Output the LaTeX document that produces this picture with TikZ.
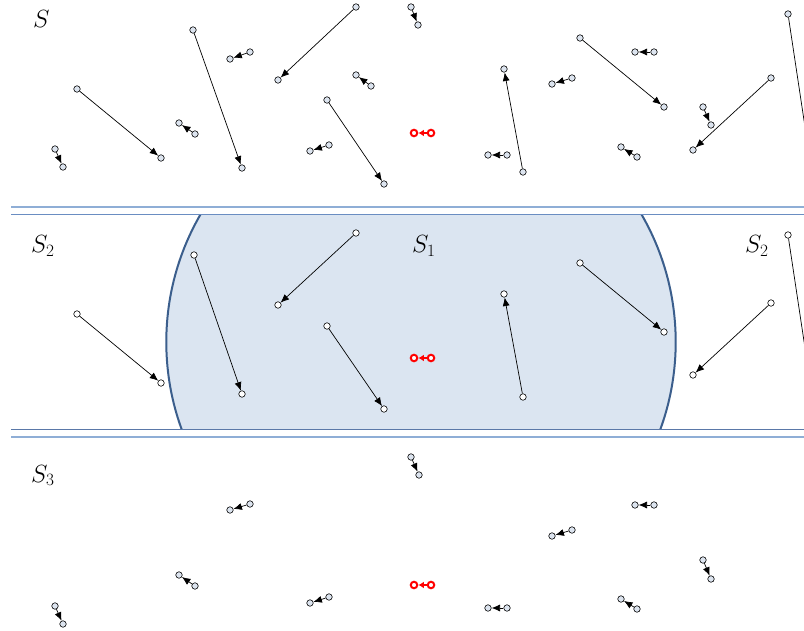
\documentclass[tikz,border=0pt]{standalone}
\usetikzlibrary{arrows.meta}
\definecolor{bandlight}{HTML}{8FAED6}
\definecolor{bandmid}{HTML}{6A8DC2}
\definecolor{banddark}{HTML}{5A78A8}
\definecolor{discfill}{HTML}{DBE5F1}
\definecolor{discline}{HTML}{3B5E8C}
\definecolor{ptfill}{HTML}{DCE4EF}
\tikzset{
  pt/.style={circle,draw=black,line width=0.6pt,fill=ptfill,inner sep=0pt,minimum size=6.5pt},
  ptw/.style={pt,fill=white},
  ptred/.style={circle,draw=red,line width=2pt,fill=white,inner sep=0pt,minimum size=6.5pt},
  vecline/.style={draw=black,line width=0.7pt,-{Latex[length=8.5pt,width=7pt]}},
  redline/.style={draw=red,line width=2pt,-{Latex[length=5.5pt,width=6.5pt]}},
  lbl/.style={anchor=base west,inner sep=0pt,font=\fontsize{24}{28}\selectfont},
  divlight/.style={draw=bandlight,line width=1.2pt},
  divmid/.style={draw=bandmid,line width=1.2pt},
  divdark/.style={draw=banddark,line width=1.2pt}
}
\begin{document}
\begin{tikzpicture}[x=1pt,y=-1pt]
\useasboundingbox (0,0) rectangle (804,631);
\clip (0,0) rectangle (804,631);
% disc S1
\begin{scope}
  \clip (0,214.5) rectangle (804,429.5);
  \path[fill=discfill,draw=discline,line width=2pt] (421,342) circle (254.7);
\end{scope}
% dividers
\coordinate (d1a) at (11,207);   \coordinate (d1b) at (804,207);
\coordinate (d2a) at (11,214.5); \coordinate (d2b) at (804,214.5);
\coordinate (d3a) at (11,429.5); \coordinate (d3b) at (804,429.5);
\coordinate (d4a) at (11,437);   \coordinate (d4b) at (804,437);
\draw[divlight] (d1a) -- (d1b);
\draw[divmid] (d2a) -- (d2b);
\draw[divdark] (d3a) -- (d3b);
\draw[divlight] (d4a) -- (d4b);
% labels
\node[lbl] (lS) at (33,28) {$S$};
\node[lbl] (lS2a) at (31,253) {$S_2$};
\node[lbl] (lS1) at (412,253) {$S_1$};
\node[lbl] (lS2b) at (745,253) {$S_2$};
\node[lbl] (lS3) at (31,482) {$S_3$};
% top panel: long vectors
\foreach \n/\xa/\ya/\xb/\yb in {
  1/77/89/161/158, 2/193/30/242/168, 3/356/7/278/80, 4/327/100/384/184,
  5/523/172/504/69, 6/580/38/664/107, 7/771/78/693/150, 8/788/14/816/200}{
  \node[pt] (ta\n) at (\xa,\ya) {};
  \node[pt] (tb\n) at (\xb,\yb) {};
  \draw[vecline] (ta\n) -- (tb\n);
}
% top panel: short vectors
\foreach \n/\xa/\ya/\xb/\yb in {
  a/55/149/63/167, b/250/52/230/59, c/195/134/179/123, d/329/145/310/151,
  e/371/86/356/75, f/411/7/418/25, g/507/155/488/155, h/572/78/552/84,
  i/654/52/635/52, j/703/107/711/125, k/637/157/621/147}{
  \node[pt] (tsa\n) at (\xa,\ya) {};
  \node[pt] (tsb\n) at (\xb,\yb) {};
  \draw[vecline] (tsa\n) -- (tsb\n);
}
% middle panel: long vectors
\foreach \n/\xa/\ya/\xb/\yb in {
  1/77/314/161/383, 2/194/255/242/394, 3/356/233/278/305, 4/327/326/384/409,
  5/523/397/504/294, 6/580/263/664/332, 7/771/303/693/375, 8/788/235/816/421}{
  \node[ptw] (ma\n) at (\xa,\ya) {};
  \node[ptw] (mb\n) at (\xb,\yb) {};
  \draw[vecline] (ma\n) -- (mb\n);
}
% bottom panel: short vectors
\foreach \n/\xa/\ya/\xb/\yb in {
  a/55/606/63/624, b/250/504/230/510, c/195/586/179/575, d/329/597/310/603,
  f/411/457/419/475, g/507/608/488/608, h/572/530/552/536,
  i/654/505/635/505, j/703/560/711/579, k/637/609/621/599}{
  \node[pt] (ba\n) at (\xa,\ya) {};
  \node[pt] (bb\n) at (\xb,\yb) {};
  \draw[vecline] (ba\n) -- (bb\n);
}
% red vectors
\foreach \n/\y in {t/133, m/358, b/585}{
  \node[ptred] (ra\n) at (431,\y) {};
  \node[ptred] (rb\n) at (414,\y) {};
  \draw[redline] (ra\n) -- (rb\n);
}
\end{tikzpicture}
\end{document}
